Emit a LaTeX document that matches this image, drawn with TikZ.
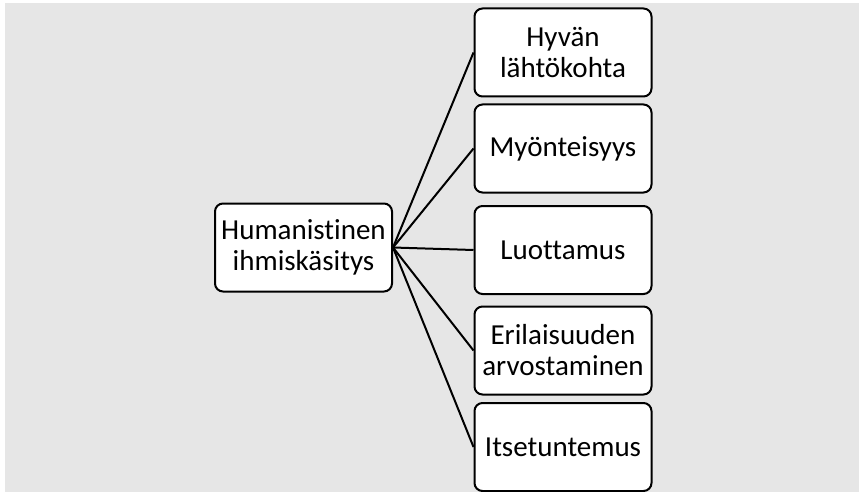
\documentclass[tikz,border=0pt]{standalone}
\usepackage{fontspec}
\setmainfont{Carlito}[Ligatures=NoCommon]
\definecolor{bggray}{RGB}{230,230,230}
\tikzset{
  card/.style={draw,line width=2pt,rounded corners=8pt,fill=white,
    minimum width=177pt,minimum height=88pt,inner sep=1pt,align=center,
    font=\fontsize{29}{31}\selectfont},
  spoke/.style={line width=2pt}
}
\begin{document}
\begin{tikzpicture}[x=1pt,y=-1pt]
      \useasboundingbox (0,0) rectangle (859,492);
      \fill[bggray] (5,3) rectangle (859,492);
      \node[card] (hub) at (303.5,247.5) {Humanistinen\\ihmiskäsitys};
      \foreach[count=\i] \y/\t in {52.5/{Hyvän\\lähtökohta},148.5/Myönteisyys,250/Luottamus,
          350.5/{Erilaisuuden\\arvostaminen},447/Itsetuntemus} {
        \node[card] (leaf\i) at (563,\y) {\t};
        \draw[spoke] (hub.east) -- (leaf\i.west);
      }
    \end{tikzpicture}
\end{document}
